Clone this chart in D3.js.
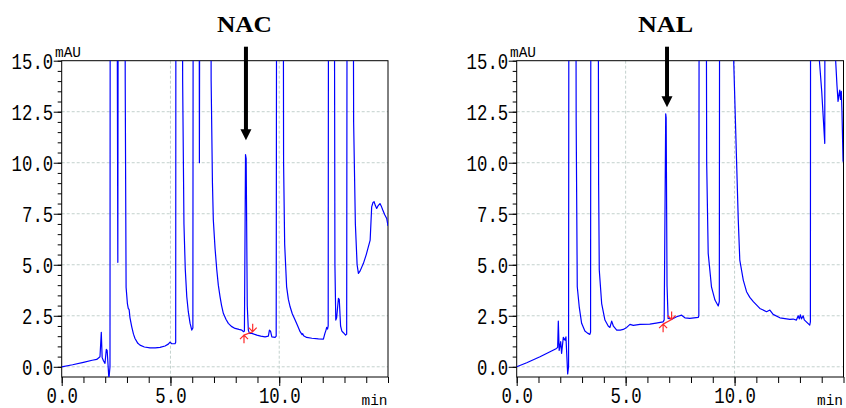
<!DOCTYPE html>
<html>
<head>
<meta charset="utf-8">
<script src="https://cdn.jsdelivr.net/npm/d3@7"></script>
<style>
  html, body { margin: 0; padding: 0; background: #fff; }
  svg { display: block; }
</style>
</head>
<body>
<svg id="chart" width="846" height="408"></svg>
<script>
// ---- data (time in min, signal in mAU) ----
const xMajor = [0, 5, 10];
const xMajorLabels = ['0.0', '5.0', '10.0'];
const yMajor = [0, 2.5, 5, 7.5, 10, 12.5, 15];
const yMajorLabels = ['0.0', '2.5', '5.0', '7.5', '10.0', '12.5', '15.0'];

// 40 = off scale (clipped at 15 mAU)
const nacTrace = [
  [0, 0], [0.5, 0.1], [1.0, 0.22], [1.4, 0.32], [1.61, 0.36], [1.76, 0.49], [1.82, 1.69], [1.86, 0.45],
  [1.92, 0.3], [1.99, 0.17], [2.05, 0.85], [2.09, 0.8], [2.17, -0.6], [2.22, 0], [2.24, 40],
  [2.50, 40], [2.58, 5.12], [2.62, 40],
  [2.88, 40], [2.92, 14], [2.96, 3.9], [3.02, 3.1], [3.06, 2.86], [3.1, 2.8], [3.14, 2.4], [3.22, 1.96],
  [3.3, 1.6], [3.37, 1.39], [3.5, 1.15], [3.6, 1.06], [3.8, 0.97], [4.06, 0.93], [4.3, 0.93], [4.52, 0.95],
  [4.75, 1.02], [4.9, 1.11], [4.98, 1.21], [5.06, 1.13], [5.21, 1.13], [5.24, 1.2], [5.26, 40],
  [5.52, 40], [5.56, 14], [5.62, 7], [5.68, 4.8], [5.75, 3.43], [5.82, 2.7], [5.9, 2.14], [5.98, 1.8],
  [6.03, 1.9], [6.06, 40],
  [6.30, 40], [6.33, 10.0], [6.38, 40],
  [6.82, 40], [6.87, 14], [6.93, 9], [6.97, 7.2], [7.05, 5.8], [7.13, 4.74], [7.2, 4.0], [7.28, 3.43],
  [7.35, 3.0], [7.43, 2.62], [7.55, 2.33], [7.66, 2.13], [7.8, 1.98], [7.97, 1.88], [8.15, 1.83],
  [8.28, 1.8], [8.36, 1.72],
  [8.40, 1.75], [8.45, 10.4], [8.48, 10.2], [8.53, 3], [8.58, 1.8], [8.63, 1.64], [8.74, 1.64],
  [8.97, 1.55], [9.15, 1.5], [9.35, 1.47], [9.5, 1.5], [9.55, 1.8], [9.6, 1.75], [9.66, 1.47],
  [9.81, 1.44], [9.86, 1.5], [9.9, 40],
  [10.16, 40], [10.2, 10], [10.25, 6], [10.34, 3.92], [10.42, 3.3], [10.5, 2.94], [10.6, 2.6],
  [10.73, 2.29], [10.85, 2.0], [10.96, 1.72], [11.05, 1.58], [11.08, 1.62], [11.12, 1.52], [11.26, 1.44],
  [11.5, 1.4], [11.8, 1.37], [12.03, 1.36], [12.1, 1.64], [12.15, 1.8], [12.18, 1.93], [12.22, 1.85],
  [12.25, 2.0], [12.28, 40],
  [12.5, 40], [12.56, 5], [12.6, 2.29], [12.64, 2.4], [12.72, 3.35], [12.76, 3.3], [12.82, 2.0],
  [12.88, 1.75], [12.95, 1.67], [13.05, 1.55], [13.1, 1.6], [13.14, 40],
  [13.36, 40], [13.42, 12], [13.5, 7], [13.58, 5.0], [13.64, 4.58], [13.72, 4.7], [13.87, 5.07],
  [14.0, 5.5], [14.18, 6.21], [14.25, 7.84], [14.31, 8.05], [14.36, 8.09], [14.42, 7.9], [14.48, 7.76],
  [14.55, 7.9], [14.63, 8.0], [14.7, 7.85], [14.76, 7.68], [14.85, 7.45], [14.94, 7.27], [15.0, 6.9]
];

const nalTrace = [
  [0, 0], [0.46, 0.2], [1.07, 0.49], [1.53, 0.74], [1.83, 0.9], [1.88, 0.95], [1.91, 2.24], [1.95, 0.8],
  [2.02, 1.23], [2.06, 0.66], [2.14, 1.44], [2.22, 1.3], [2.26, 1.47], [2.34, -0.35], [2.38, 0], [2.41, 40],
  [2.68, 40], [2.73, 12], [2.78, 3.92], [2.87, 2.94], [2.98, 2.13], [3.13, 1.75], [3.25, 1.65],
  [3.36, 1.59], [3.39, 1.7], [3.42, 40],
  [3.71, 40], [3.76, 9], [3.79, 4.74], [3.9, 3.1], [4.05, 2.29], [4.2, 2.0], [4.28, 1.93], [4.36, 2.24],
  [4.44, 1.99], [4.59, 1.8], [4.75, 1.8], [4.89, 1.83], [5.05, 1.93], [5.2, 2.08], [5.35, 2.03],
  [5.66, 2.08], [6.11, 2.09], [6.4, 2.14], [6.72, 2.2],
  [6.77, 2.3], [6.84, 12.4], [6.86, 12.2], [6.9, 4], [6.95, 2.37], [7.14, 2.34], [7.34, 2.45],
  [7.57, 2.53], [7.72, 2.4], [7.95, 2.37], [8.33, 2.42], [8.36, 2.5], [8.39, 40],
  [8.66, 40], [8.72, 10], [8.79, 5.56], [8.94, 3.92], [9.1, 3.27], [9.25, 2.98], [9.3, 3.2], [9.33, 40],
  [9.92, 40], [9.96, 15], [10.17, 7.2], [10.24, 5.23], [10.4, 4.25], [10.55, 3.68], [10.7, 3.4],
  [10.86, 3.19], [11.16, 2.86], [11.47, 2.7], [11.62, 2.78], [11.77, 2.57], [12.08, 2.4], [12.54, 2.32],
  [12.69, 2.34], [12.84, 2.29], [12.92, 2.5], [12.97, 2.35], [13.02, 2.55], [13.07, 2.35], [13.15, 2.5],
  [13.2, 2.3], [13.45, 2.04], [13.48, 2.2], [13.5, 40],
  [13.86, 40], [13.88, 15.2], [14.0, 13.5], [14.14, 10.95], [14.17, 40],
  [14.6, 40], [14.63, 15.2], [14.7, 13.8], [14.75, 13.0], [14.8, 13.4], [14.83, 13.56], [14.86, 13.1],
  [14.9, 13.5], [14.93, 12.5], [14.98, 10.05]
];

// integration start / end marks
const nacMarks = [[8.38, 1.55], [8.78, 1.72]];
const nalMarks = [[6.72, 2.09], [7.11, 2.32]];

// annotated peaks: name, time, arrow tip value
const peakNames = ['NAC', 'NAL'];
const peakTimes = [8.47, 6.9];
const peakTips = [11.1, 12.72];

// ---- layout ----
const svg = d3.select('#chart');
const TOP = 60.7, BOTTOM = 377;
const panels = [
  { left: 61.7, right: 388, trace: nacTrace, marks: nacMarks, i: 0 },
  { left: 516.7, right: 843.5, trace: nalTrace, marks: nalMarks, i: 1 }
];
const MONO = 'Liberation Mono, DejaVu Sans Mono, monospace';
const GRID = '#c3d1cd';

panels.forEach(p => {
  const x = d3.scaleLinear().domain([0, 15]).range([p.left, p.right]);
  const y = d3.scaleLinear().domain([-0.5, 15]).range([BOTTOM, TOP]);
  const g = svg.append('g');
  const clipId = 'clip' + p.i;

  g.append('clipPath').attr('id', clipId)
    .append('rect')
    .attr('x', p.left).attr('y', TOP)
    .attr('width', p.right - p.left).attr('height', BOTTOM - TOP);

  // grid
  g.append('g').selectAll('line.h')
    .data(yMajor.filter(v => v < 15))
    .join('line')
    .attr('x1', p.left).attr('x2', p.right)
    .attr('y1', d => y(d)).attr('y2', d => y(d))
    .attr('stroke', GRID).attr('stroke-width', 1).attr('stroke-dasharray', '3,2');
  g.append('g').selectAll('line.v')
    .data(xMajor.filter(v => v > 0))
    .join('line')
    .attr('x1', d => x(d)).attr('x2', d => x(d))
    .attr('y1', TOP).attr('y2', BOTTOM)
    .attr('stroke', GRID).attr('stroke-width', 1).attr('stroke-dasharray', '3,2');

  // minor ticks
  const yMinor = d3.range(0, 15.01, 0.5);
  const xMinor = d3.range(0, 15.01, 1);
  g.append('g').attr('transform', `translate(${p.left},0)`)
    .call(d3.axisLeft(y).tickValues(yMinor).tickSize(4).tickSizeOuter(0).tickFormat(''))
    .call(a => a.select('.domain').remove());
  g.append('g').attr('transform', `translate(0,${BOTTOM})`)
    .call(d3.axisBottom(x).tickValues(xMinor).tickSize(6).tickSizeOuter(0).tickFormat(''))
    .call(a => a.select('.domain').remove());

  // major ticks with labels
  const yAx = g.append('g').attr('transform', `translate(${p.left},0)`)
    .call(d3.axisLeft(y).tickValues(yMajor).tickSize(8).tickSizeOuter(0)
      .tickFormat((d, i) => yMajorLabels[i]));
  yAx.select('.domain').remove();
  yAx.selectAll('text')
    .attr('font-family', MONO).attr('font-size', 22).attr('fill', '#000')
    .attr('x', -8.5).attr('dy', '0.36em')
    .attr('textLength', d => yMajorLabels[yMajor.indexOf(d)].length * 10.4)
    .attr('lengthAdjust', 'spacingAndGlyphs');

  const xAx = g.append('g').attr('transform', `translate(0,${BOTTOM})`)
    .call(d3.axisBottom(x).tickValues(xMajor).tickSize(9).tickSizeOuter(0)
      .tickFormat((d, i) => xMajorLabels[i]));
  xAx.select('.domain').remove();
  xAx.selectAll('text')
    .attr('font-family', MONO).attr('font-size', 22).attr('fill', '#000')
    .attr('y', 26.3).attr('dy', 0)
    .attr('textLength', d => xMajorLabels[xMajor.indexOf(d)].length * 10.4)
    .attr('lengthAdjust', 'spacingAndGlyphs');

  // frame
  g.append('rect')
    .attr('x', p.left).attr('y', TOP)
    .attr('width', p.right - p.left).attr('height', BOTTOM - TOP)
    .attr('fill', 'none').attr('stroke', '#000').attr('stroke-width', 1);

  // unit labels
  g.append('text').text('mAU')
    .attr('x', p.left - 6.7).attr('y', 57)
    .attr('font-family', MONO).attr('font-size', 15)
    .attr('textLength', 26).attr('lengthAdjust', 'spacingAndGlyphs');
  g.append('text').text('min')
    .attr('x', p.right - 26.5).attr('y', 405)
    .attr('font-family', MONO).attr('font-size', 15)
    .attr('textLength', 26).attr('lengthAdjust', 'spacingAndGlyphs');

  // trace
  const line = d3.line().x(d => x(d[0])).y(d => y(d[1]));
  g.append('path')
    .datum(p.trace)
    .attr('clip-path', `url(#${clipId})`)
    .attr('d', line)
    .attr('fill', 'none')
    .attr('stroke', '#0000ff')
    .attr('stroke-width', 1.2)
    .attr('stroke-linejoin', 'round');

  // integration marks
  const [s, e] = p.marks;
  const red = '#ff2a2a';
  const mk = g.append('g').attr('stroke', red).attr('stroke-width', 1.2).attr('fill', 'none');
  mk.append('line')
    .attr('x1', x(s[0])).attr('y1', y(s[1])).attr('x2', x(e[0])).attr('y2', y(e[1]));
  // start: stem down, head up
  mk.append('path')
    .attr('d', `M${x(s[0])},${y(s[1]) + 8}V${y(s[1])}M${x(s[0]) - 4},${y(s[1]) + 4}L${x(s[0])},${y(s[1])}L${x(s[0]) + 4},${y(s[1]) + 4}`);
  // end: stem up, head down
  mk.append('path')
    .attr('d', `M${x(e[0])},${y(e[1]) - 8}V${y(e[1])}M${x(e[0]) - 4},${y(e[1]) - 4}L${x(e[0])},${y(e[1])}L${x(e[0]) + 4},${y(e[1]) - 4}`);

  // peak annotation
  const ax = x(peakTimes[p.i]);
  const tip = y(peakTips[p.i]);
  g.append('text').text(peakNames[p.i])
    .attr('x', ax - 1.5).attr('y', 32.3)
    .attr('text-anchor', 'middle')
    .attr('font-family', 'Liberation Serif, Times New Roman, serif')
    .attr('font-weight', 'bold').attr('font-size', 23)
    .attr('textLength', 55).attr('lengthAdjust', 'spacingAndGlyphs');
  g.append('line')
    .attr('x1', ax).attr('x2', ax).attr('y1', 46.7).attr('y2', tip - 9)
    .attr('stroke', '#000').attr('stroke-width', 4);
  g.append('path')
    .attr('d', `M${ax - 5.5},${tip - 11}L${ax + 5.5},${tip - 11}L${ax},${tip}Z`)
    .attr('fill', '#000');
});
</script>
</body>
</html>
